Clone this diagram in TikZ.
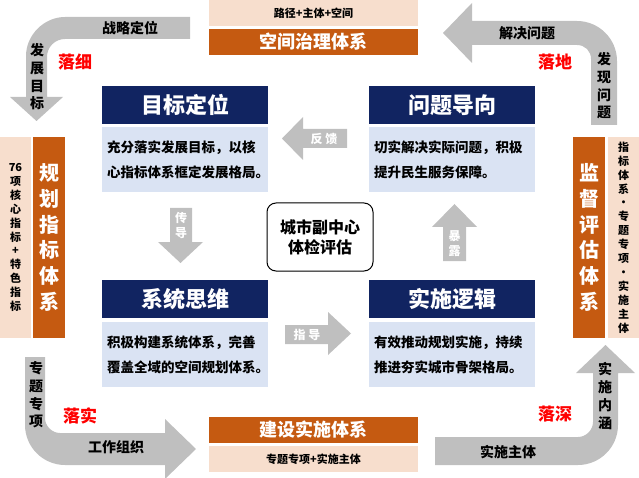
\documentclass[tikz,border=0pt]{standalone}
\usepackage{fontspec}
\setmainfont{Noto Sans CJK SC}
\usepackage{xcolor}
\usetikzlibrary{positioning}

\definecolor{navy}{RGB}{17,36,97}
\definecolor{descblue}{RGB}{218,227,243}
\definecolor{rust}{RGB}{197,90,17}
\definecolor{peach}{RGB}{247,222,205}
\definecolor{arrowgray}{RGB}{191,191,191}

\tikzset{
	titlebox/.style={fill=navy,text=white,inner sep=0pt,minimum width=166pt,minimum height=38pt,font=\fontsize{22}{22}\selectfont\bfseries},
	descbox/.style={fill=descblue,inner sep=0pt,minimum width=166pt,minimum height=65pt,text width=156pt,align=left,font=\fontsize{13.5}{25}\selectfont\bfseries},
	rustbar/.style={fill=rust,text=white,inner sep=0pt,font=\fontsize{18}{18}\selectfont\bfseries},
	peachbar/.style={fill=peach,inner sep=0pt,font=\fontsize{11}{11}\selectfont\bfseries},
	rustcol/.style={fill=rust,text=white,inner sep=0pt,minimum width=32pt,minimum height=201pt,align=center,font=\fontsize{20}{25.8}\selectfont\bfseries},
	peachcol/.style={fill=peach,inner sep=0pt,minimum width=31pt,minimum height=201pt,align=center,font=\fontsize{11}{13.9}\selectfont\bfseries},
	flowlabel/.style={align=center,inner sep=0pt,font=\fontsize{14}{17.7}\selectfont\bfseries},
	redlabel/.style={text=red,inner sep=0pt,font=\fontsize{17}{17}\selectfont\bfseries},
	smalllabel/.style={text=white,align=center,inner sep=0pt,font=\fontsize{12}{15}\selectfont\bfseries},
	fatarrow/.style={fill=arrowgray}
}

\begin{document}
\begin{tikzpicture}[x=1pt,y=-1pt]
	\useasboundingbox (0,0) rectangle (639,478);
	% corner arrows
	\fill[fatarrow] (190,17) -- (65,17) .. controls (44,17) and (26,35) .. (26,56) -- (26,97) -- (10,97) -- (36.5,121) -- (63,97) -- (47,97) -- (47,57) .. controls (47,47) and (55,39) .. (65,39) -- (190,39) -- cycle;
	\fill[fatarrow] (472,21) -- (577,21) .. controls (599,21) and (617,39) .. (617,61) -- (617,125) -- (591,125) -- (591,59) .. controls (591,51) and (585,45) .. (577,45) -- (472,45) -- (472,63) -- (443,33) -- (472,3) -- cycle;
	\fill[fatarrow] (25,357) -- (45,357) -- (45,418) .. controls (45,426) and (52,433) .. (60,433) -- (165,433) -- (165,419) -- (196,449) -- (165,479) -- (165,465) -- (65,465) .. controls (43,465) and (25,447) .. (25,425) -- cycle;
	\fill[fatarrow] (435,437) -- (578,437) .. controls (586,437) and (593,430) .. (593,422) -- (593,373) -- (576,373) -- (605.5,345) -- (635,373) -- (618,373) -- (618,425) .. controls (618,447) and (600,465) .. (578,465) -- (435,465) -- cycle;
	% top and bottom bars
	\node[peachbar,minimum width=209pt,minimum height=26pt] (pathbar) at (313.5,13) {路径+主体+空间};
	\node[rustbar,minimum width=209pt,minimum height=26pt] (spacebar) at (313.5,42) {空间治理体系};
	\node[rustbar,minimum width=209pt,minimum height=26pt] (buildbar) at (313.5,430) {建设实施体系};
	\node[peachbar,minimum width=209pt,minimum height=26pt] (topicbar) at (313.5,459) {专题专项+实施主体};
	% side columns
	\node[peachcol] (indexnote) at (15.5,237.5) {76\\项\\核\\心\\指\\标\\+\\特\\色\\指\\标};
	\node[rustcol] (indexsys) at (49,237.5) {规\\划\\指\\标\\体\\系};
	\node[rustcol] (supervise) at (589,237.5) {监\\督\\评\\估\\体\\系};
	\node[peachcol] (supnote) at (623.5,237.5) {指\\标\\体\\系\\•\\专\\题\\专\\项\\•\\实\\施\\主\\体};
	% four main blocks
	\node[titlebox] (goal) at (185,105) {目标定位};
	\node[descbox] (goaltxt) at (185,160) {充分落实发展目标，以核\\心指标体系框定发展格局。};
	\node[titlebox] (issue) at (452,105) {问题导向};
	\node[descbox] (issuetxt) at (452,160) {切实解决实际问题，积极\\提升民生服务保障。};
	\node[titlebox] (system) at (185,299) {系统思维};
	\node[descbox] (systemtxt) at (185,354.5) {积极构建系统体系，完善\\覆盖全域的空间规划体系。};
	\node[titlebox] (logic) at (452,299) {实施逻辑};
	\node[descbox] (logictxt) at (452,354.5) {有效推动规划实施，持续\\推进夯实城市骨架格局。};
	% centre
	\node[draw=black,line width=1pt,fill=white,rounded corners=9pt,minimum width=106pt,minimum height=68pt,align=center,font=\fontsize{16}{20}\selectfont\bfseries] (centre) at (320,237) {城市副中心\\体检评估};
	% small arrows between the blocks
	\fill[fatarrow] (347,129) -- (303,129) -- (303,117) -- (282,138.5) -- (303,160) -- (303,148) -- (347,148) -- cycle;
	\fill[fatarrow] (170,208) -- (192,208) -- (192,242) -- (203,242) -- (180.5,263) -- (158,242) -- (170,242) -- cycle;
	\fill[fatarrow] (443,261) -- (466,261) -- (466,227) -- (477,227) -- (454.5,204) -- (432,227) -- (443,227) -- cycle;
	\fill[fatarrow] (285,325) -- (328,325) -- (328,312) -- (351,333.5) -- (328,355) -- (328,344) -- (285,344) -- cycle;
	\node[smalllabel] (feedback) at (324,138.5) {反 馈};
	\node[smalllabel] (transmit) at (181,225) {传\\导};
	\node[smalllabel] (expose) at (454.5,244) {暴\\露};
	\node[smalllabel] (guide) at (307,334.5) {指 导};
	% corner labels
	\node[flowlabel] (strategy) at (130,28) {战略定位};
	\node[flowlabel] (devgoal) at (37,77) {发\\展\\目\\标};
	\node[redlabel] (refine) at (75,62) {落细};
	\node[flowlabel] (solve) at (527,33) {解决问题};
	\node[flowlabel] (discover) at (604,86) {发\\现\\问\\题};
	\node[redlabel] (land) at (555,62) {落地};
	\node[flowlabel] (topic) at (36,395) {专\\题\\专\\项};
	\node[flowlabel] (workorg) at (116,447) {工作组织};
	\node[redlabel] (implement) at (80,416) {落实};
	\node[flowlabel] (subject) at (508,452) {实施主体};
	\node[flowlabel] (content) at (605,396) {实\\施\\内\\涵};
	\node[redlabel] (deepen) at (555,414) {落深};
\end{tikzpicture}
\end{document}
